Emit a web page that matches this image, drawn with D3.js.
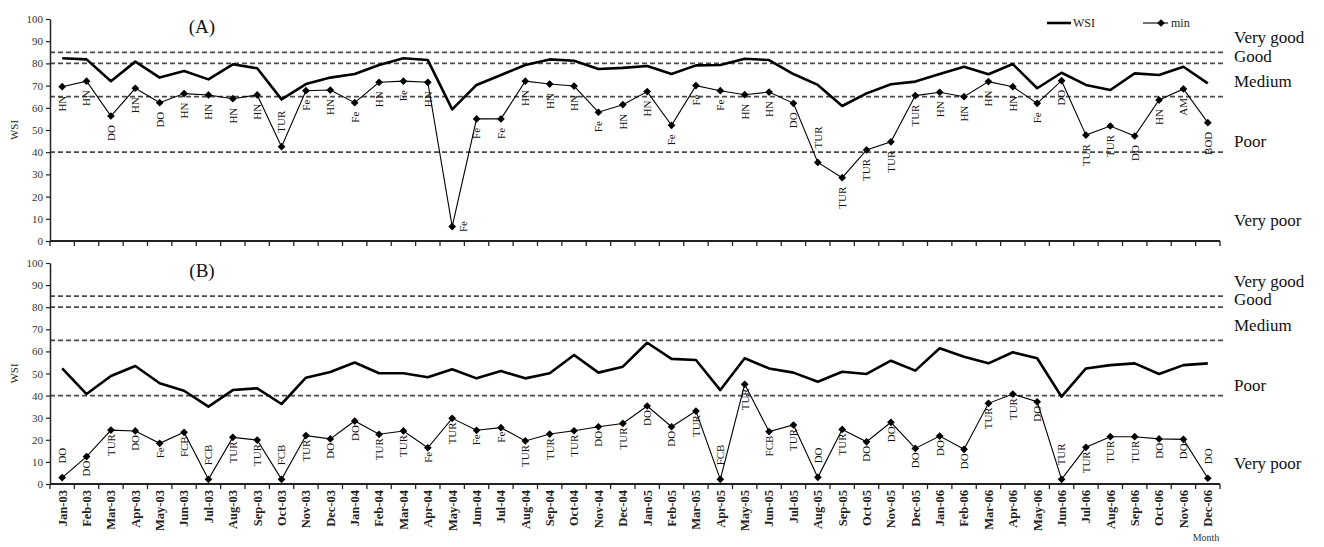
<!DOCTYPE html>
<html>
<head>
<meta charset="utf-8">
<script src="https://cdn.jsdelivr.net/npm/d3@7"></script>
<style>
  html, body { margin: 0; padding: 0; background: #fff; }
  svg text { font-family: "Liberation Serif", "Times New Roman", serif; }
</style>
</head>
<body>
<svg id="chart" width="1324" height="547"></svg>
<script>
// Months Jan-03 .. Dec-06
const months = ["Jan-03","Feb-03","Mar-03","Apr-03","May-03","Jun-03","Jul-03","Aug-03","Sep-03","Oct-03","Nov-03","Dec-03",
  "Jan-04","Feb-04","Mar-04","Apr-04","May-04","Jun-04","Jul-04","Aug-04","Sep-04","Oct-04","Nov-04","Dec-04",
  "Jan-05","Feb-05","Mar-05","Apr-05","May-05","Jun-05","Jul-05","Aug-05","Sep-05","Oct-05","Nov-05","Dec-05",
  "Jan-06","Feb-06","Mar-06","Apr-06","May-06","Jun-06","Jul-06","Aug-06","Sep-06","Oct-06","Nov-06","Dec-06"];

// Station A
const wsiA = [82.3, 81.8, 72, 80.8, 73.6, 76.6, 72.8, 79.6, 77.8, 63.8, 70.7, 73.6,
  75.2, 79.3, 82.3, 81.5, 59.3, 70.3, 74.8, 79.3, 81.8, 81.2, 77.5, 78,
  78.8, 75.2, 79.1, 79.3, 82.1, 81.5, 75.2, 70.3, 60.8, 66.5, 70.6, 71.8,
  75.2, 78.5, 75.1, 79.7, 68.8, 75.8, 70.3, 68, 75.5, 74.8, 78.5, 71];
const minA = [69.5, 72, 56.3, 68.8, 62.3, 66.4, 65.8, 64.1, 65.8, 42.5, 67.7, 68,
  62.3, 71.5, 72, 71.5, 6.5, 55, 55, 72, 70.7, 69.8, 58, 61.4,
  67.3, 52.1, 70, 67.7, 65.9, 67.1, 62, 35.4, 28.5, 41, 44.7, 65.5,
  67, 65, 71.8, 69.5, 62, 72.2, 47.7, 51.8, 47.3, 63.5, 68.5, 53.3];
const paramA = ["HN","HN","DO","HN","DO","HN","HN","HN","HN","TUR","Fe","HN",
  "Fe","HN","Fe","HN","Fe","Fe","Fe","HN","HN","HN","Fe","HN",
  "HN","Fe","Fe","Fe","HN","HN","DO","TUR","TUR","TUR","TUR","TUR",
  "HN","HN","HN","HN","Fe","DO","TUR","TUR","DO","HN","AM","BOD"];

// Station B
const wsiB = [52.3, 40.7, 48.9, 53.4, 45.6, 42.2, 35, 42.5, 43.3, 36.2, 48.1, 50.7,
  55, 50.1, 50.1, 48.3, 51.9, 47.8, 51.1, 47.8, 50.1, 58.4, 50.4, 53.1,
  63.9, 56.6, 56.1, 42.5, 56.9, 52.3, 50.4, 46.3, 50.8, 49.8, 55.8, 51.3,
  61.4, 57.6, 54.6, 59.6, 56.9, 39.5, 52.3, 53.8, 54.6, 49.8, 53.8, 54.6];
const minB = [2.9, 12.4, 24.4, 24, 18.4, 23.4, 2.1, 21.1, 19.9, 2.1, 21.9, 20.4,
  28.5, 22.5, 24, 16.4, 29.7, 24.3, 25.5, 19.5, 22.6, 24.1, 25.9, 27.4,
  35.3, 25.9, 33, 2.1, 45.1, 23.7, 26.7, 3, 24.7, 19.1, 27.9, 16.1,
  21.7, 15.7, 36.5, 40.7, 37.2, 2.1, 16.6, 21.4, 21.4, 20.4, 20.2, 2.6];
const paramB = ["DO","DO","TUR","DO","Fe","FCB","FCB","TUR","TUR","FCB","TUR","DO",
  "DO","TUR","TUR","Fe","TUR","Fe","Fe","TUR","TUR","TUR","DO","TUR",
  "DO","DO","TUR","FCB","TUR","FCB","TUR","DO","TUR","DO","DO","DO",
  "DO","DO","TUR","TUR","DO","TUR","TUR","TUR","TUR","DO","DO","DO"];

// Class thresholds and class names
const thresholds = [85, 80, 65, 40];
const classNames = ["Very good", "Good", "Medium", "Poor", "Very poor"];
const classLevels = [92, 83.5, 72, 45, 9.5];
const yTicks = [0, 10, 20, 30, 40, 50, 60, 70, 80, 90, 100];

const svg = d3.select("#chart");
const left = 50, right = 1220;

const x = d3.scaleBand().domain(months).range([left, right]).padding(0);
const cx = m => x(m) + x.bandwidth() / 2;

const diamond = d3.symbol().type(d3.symbolDiamond2).size(38);

function panel(opts) {
  const g = svg.append("g");
  const y = d3.scaleLinear().domain([0, 100]).range([opts.bottom, opts.top]);

  // class threshold lines
  g.selectAll("line.thr").data(thresholds).join("line")
    .attr("x1", left).attr("x2", right + 3)
    .attr("y1", d => y(d)).attr("y2", d => y(d))
    .attr("stroke", "#4a4a4a").attr("stroke-width", 1.8)
    .attr("stroke-dasharray", "5,3");

  // class names on the right
  g.selectAll("text.cls").data(classNames).join("text")
    .attr("x", 1234).attr("y", (d, i) => y(classLevels[i]))
    .attr("dy", "0.35em").attr("font-size", 17).attr("fill", "#111")
    .text(d => d);

  // y axis
  const ya = g.append("g").attr("transform", `translate(${left},0)`)
    .call(d3.axisLeft(y).tickValues(yTicks).tickSize(4).tickPadding(3).tickSizeOuter(0));
  ya.select(".domain").attr("stroke", "#222").attr("stroke-width", 1.5);
  ya.selectAll(".tick line").attr("stroke", "#222").attr("stroke-width", 1.2);
  ya.selectAll(".tick text").attr("font-family", "Liberation Serif, serif")
    .attr("font-size", 11).attr("fill", "#333");

  g.append("text").attr("transform", `translate(14,${(opts.top + opts.bottom) / 2}) rotate(-90)`)
    .attr("text-anchor", "middle").attr("dy", "0.35em").attr("font-size", 11).attr("fill", "#222")
    .text("WSI");

  // x axis line and category boundary ticks
  g.append("line").attr("x1", left).attr("x2", right)
    .attr("y1", opts.bottom).attr("y2", opts.bottom)
    .attr("stroke", "#222").attr("stroke-width", 2);
  const bounds = months.map(m => x(m)).concat([right]);
  g.selectAll("line.xt").data(bounds).join("line")
    .attr("x1", d => d).attr("x2", d => d)
    .attr("y1", opts.bottom).attr("y2", opts.bottom + 5)
    .attr("stroke", "#222").attr("stroke-width", 1.3);

  if (opts.showMonths) {
    const xa = g.append("g").attr("transform", `translate(0,${opts.bottom})`)
      .call(d3.axisBottom(x).tickSize(0).tickPadding(0));
    xa.select(".domain").remove();
    xa.selectAll(".tick text")
      .attr("font-family", "Liberation Serif, serif").attr("font-size", 12.5)
      .attr("font-weight", "bold").attr("fill", "#222")
      .attr("transform", "rotate(-90)")
      .attr("text-anchor", "end").attr("x", -6).attr("y", 0).attr("dy", "0.35em");
  }

  // panel tag
  g.append("text").attr("x", 202).attr("y", opts.top + 7)
    .attr("text-anchor", "middle").attr("dy", "0.35em")
    .attr("font-size", 19).attr("fill", "#111").text(opts.tag);

  // WSI line
  g.append("path").datum(opts.wsi)
    .attr("fill", "none").attr("stroke", "#000").attr("stroke-width", 2.6)
    .attr("stroke-linejoin", "round")
    .attr("d", d3.line().x((d, i) => cx(months[i])).y(d => y(d)));

  // minimum sub-index line
  g.append("path").datum(opts.min)
    .attr("fill", "none").attr("stroke", "#000").attr("stroke-width", 1.1)
    .attr("d", d3.line().x((d, i) => cx(months[i])).y(d => y(d)));
  g.selectAll("path.pt").data(opts.min).join("path")
    .attr("d", diamond)
    .attr("transform", (d, i) => `translate(${cx(months[i])},${y(d)})`)
    .attr("fill", "#000");

  // parameter that sets the minimum
  g.selectAll("text.par").data(opts.min).join("text")
    .attr("font-size", 11).attr("fill", "#111")
    .attr("dy", "0.35em")
    .each(function (d, i) {
      const px = cx(months[i]), py = y(d);
      const side = opts.side(i, d);
      const t = d3.select(this).text(opts.param[i]);
      if (side === "above") {
        t.attr("text-anchor", "start").attr("transform", `translate(${px},${py - opts.gapAbove}) rotate(-90)`);
      } else if (side === "right") {
        t.attr("text-anchor", "middle").attr("transform", `translate(${px + 11},${py}) rotate(-90)`);
      } else {
        t.attr("text-anchor", "end").attr("transform", `translate(${px},${py + opts.gapBelow}) rotate(-90)`);
      }
    });
}

const aboveA = new Set([9, 31]);
panel({
  top: 19, bottom: 241, tag: "(A)", wsi: wsiA, min: minA, param: paramA,
  showMonths: false, gapBelow: 9, gapAbove: 14,
  side: (i) => i === 16 ? "right" : (aboveA.has(i) ? "above" : "below")
});
panel({
  top: 263, bottom: 484, tag: "(B)", wsi: wsiB, min: minB, param: paramB,
  showMonths: true, gapBelow: 4, gapAbove: 14,
  side: (i, d) => d < 5 ? "above" : "below"
});

// legend
const lg = svg.append("g");
lg.append("line").attr("x1", 1047).attr("x2", 1071).attr("y1", 23).attr("y2", 23)
  .attr("stroke", "#000").attr("stroke-width", 2.6);
lg.append("text").attr("x", 1073).attr("y", 23).attr("dy", "0.35em")
  .attr("font-size", 12).attr("fill", "#222").text("WSI");
lg.append("line").attr("x1", 1143).attr("x2", 1168).attr("y1", 23).attr("y2", 23)
  .attr("stroke", "#000").attr("stroke-width", 1.1);
lg.append("path").attr("d", diamond).attr("transform", "translate(1161,23)").attr("fill", "#000");
lg.append("text").attr("x", 1171).attr("y", 23).attr("dy", "0.35em")
  .attr("font-size", 12).attr("fill", "#222").text("min");

svg.append("text").attr("x", 1206).attr("y", 541).attr("text-anchor", "middle")
  .attr("font-size", 10).attr("fill", "#333").text("Month");
</script>
</body>
</html>
